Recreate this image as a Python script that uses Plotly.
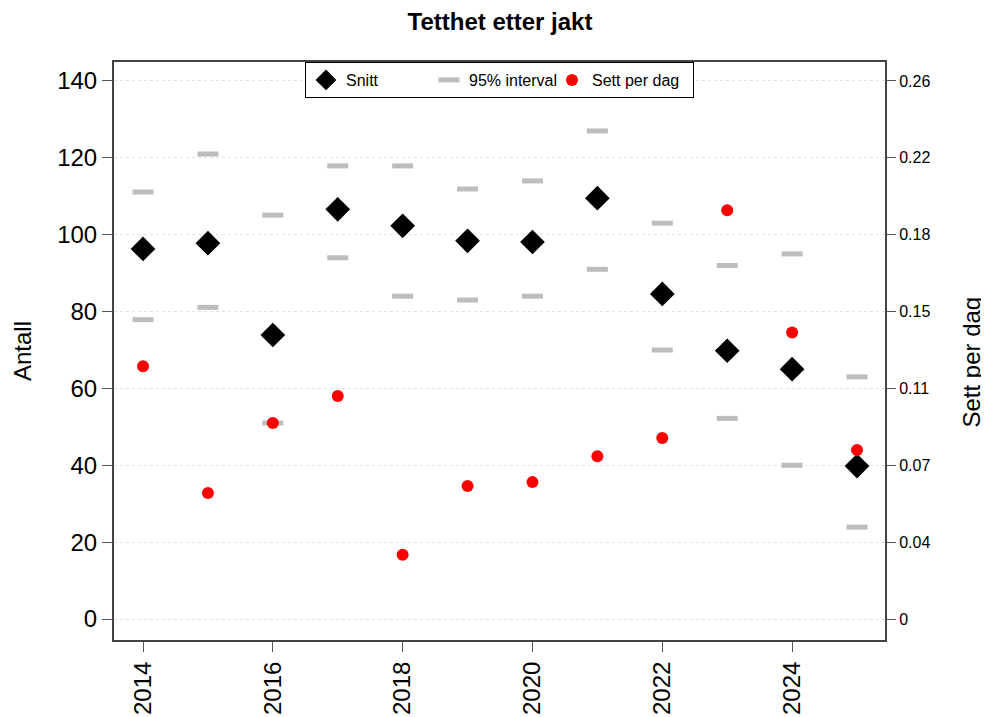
import plotly.graph_objects as go

years = [2014, 2015, 2016, 2017, 2018, 2019, 2020, 2021, 2022, 2023, 2024, 2025]
snitt = [96.3, 97.8, 73.9, 106.6, 102.3, 98.4, 98.1, 109.5, 84.6, 69.8, 65.0, 39.8]
ci_upper = [111.1, 121.0, 105.1, 117.9, 117.9, 111.9, 114.0, 127.0, 103.0, 92.0, 95.0, 63.0]
ci_lower = [77.9, 81.1, 51.0, 94.0, 84.0, 83.0, 84.0, 91.0, 70.0, 52.2, 40.0, 23.9]
sett_per_dag = [0.1208, 0.0602, 0.0936, 0.1065, 0.0307, 0.0635, 0.0654, 0.0778, 0.0865, 0.1953, 0.1369, 0.0808]

left_ticks = [0, 20, 40, 60, 80, 100, 120, 140]
right_ticktext = ["0", "0.04", "0.07", "0.11", "0.15", "0.18", "0.22", "0.26"]
scale = 0.001836  # right axis units per left axis unit

FONT = "Liberation Sans, Arial, sans-serif"

# page body has an ~8px margin; figure is sized so the plot lands where the reference has it
W, H = 981, 709

fig = go.Figure()
fig.add_trace(go.Scatter(
    x=years, y=snitt, mode="markers", name="Snitt",
    marker=dict(symbol="diamond", size=19, color="black"),
))
fig.add_trace(go.Scatter(
    x=years + years, y=ci_upper + ci_lower, mode="markers", name="95% interval",
    marker=dict(symbol="line-ew", size=15, color="#bdbdbd",
                line=dict(width=5, color="#bdbdbd")),
))
fig.add_trace(go.Scatter(
    x=years, y=sett_per_dag, mode="markers", name="Sett per dag", yaxis="y2",
    legendwidth=96,
    marker=dict(symbol="circle", size=12, color="#ff0000"),
))

y_range = [-5.46, 144.94]
fig.update_layout(
    width=W, height=H,
    margin=dict(l=106, r=104, t=54, b=77, autoexpand=False),
    paper_bgcolor="white", plot_bgcolor="white",
    font=dict(family=FONT, color="black"),
    title=dict(text="<b>Tetthet etter jakt</b>", x=492 / W, xanchor="center",
               xref="container", yref="container",
               y=1 - 14 / H, yanchor="middle", font=dict(size=24, family=FONT)),
    showlegend=True,
    legend=dict(orientation="h", x=0.5, xanchor="center", y=1, yanchor="top",
                bordercolor="black", borderwidth=1, bgcolor="white",
                font=dict(size=16, family=FONT), itemwidth=30,
                entrywidth=78, entrywidthmode="pixels"),
    xaxis=dict(range=[2013.553, 2025.431], tickvals=[2014, 2016, 2018, 2020, 2022, 2024],
               ticks="outside", ticklen=10, tickcolor="#555", tickangle=-90,
               tickfont=dict(size=24), showgrid=False, zeroline=False, automargin=False,
               showline=True, linecolor="#444", linewidth=2, mirror=True),
    yaxis=dict(range=y_range, tickvals=left_ticks, ticks="outside", ticklen=10,
               tickcolor="#555", tickfont=dict(size=24), automargin=False,
               showgrid=True, gridcolor="#e3e3e3", griddash="dot", gridwidth=1,
               zeroline=False, showline=True, linecolor="#444", linewidth=2, mirror=True),
    yaxis2=dict(range=[y_range[0] * scale, y_range[1] * scale], overlaying="y", side="right",
                tickvals=[v * scale for v in left_ticks], ticktext=right_ticktext,
                ticks="outside", ticklen=10, tickcolor="#555", tickfont=dict(size=16),
                automargin=False, showgrid=False, zeroline=False, showline=False),
    annotations=[
        dict(text="Antall", xref="paper", yref="paper", x=(22 - 114) / 771, y=0.5,
             xanchor="center", yanchor="middle", textangle=-90, showarrow=False,
             font=dict(size=24, family=FONT)),
        dict(text="Sett per dag", xref="paper", yref="paper", x=(972 - 114) / 771, y=0.48,
             xanchor="center", yanchor="middle", textangle=-90, showarrow=False,
             font=dict(size=24, family=FONT)),
    ],
)

fig.write_html("out.html")
